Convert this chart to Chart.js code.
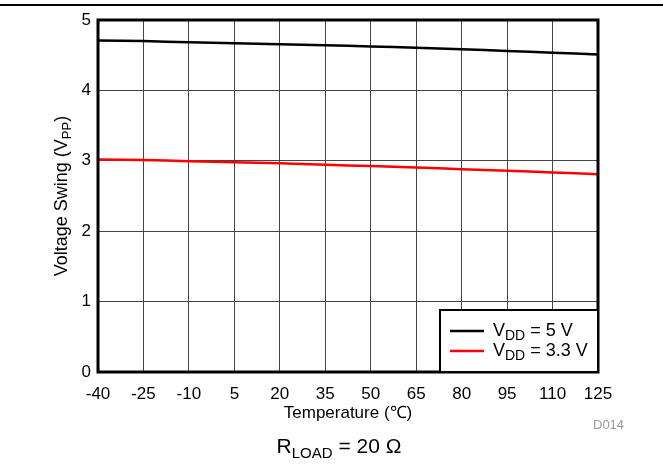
<!DOCTYPE html>
<html>
<head>
<meta charset="utf-8">
<script src="https://cdn.jsdelivr.net/npm/chart.js@4"></script>
<style>
  html, body { margin: 0; padding: 0; background: #fff; }
  #wrap { width: 663px; height: 464px; position: relative; }
</style>
</head>
<body>
<div id="wrap"><canvas id="myChart" width="663" height="464"></canvas></div>
<script>
// temperatures (deg C) and swing values
var temps = [-40, -25, -10, 5, 20, 35, 50, 65, 80, 95, 110, 125];
var swing5V = [4.71, 4.70, 4.685, 4.67, 4.655, 4.64, 4.625, 4.605, 4.585, 4.56, 4.535, 4.51];
var swing33V = [3.02, 3.01, 2.995, 2.98, 2.965, 2.945, 2.925, 2.905, 2.88, 2.86, 2.835, 2.81];
var yTicks = [0, 1, 2, 3, 4, 5];

var FONT = "'Liberation Sans', Arial, sans-serif";

function pts(ys){
    return temps.map(function(t, i){ return {x: t, y: ys[i]}; });
}

// draws "main" + subscript + rest, returns width
function subText(ctx, x, y, main, sub, rest, size, subSize, align){
    ctx.font = size + 'px ' + FONT;
    var w1 = ctx.measureText(main).width;
    var w3 = ctx.measureText(rest).width;
    ctx.font = subSize + 'px ' + FONT;
    var w2 = ctx.measureText(sub).width;
    var total = w1 + w2 + w3;
    var sx = x;
    if (align === 'center') sx = x - total / 2;
    ctx.textAlign = 'left';
    ctx.textBaseline = 'alphabetic';
    ctx.font = size + 'px ' + FONT;
    ctx.fillText(main, sx, y);
    ctx.font = subSize + 'px ' + FONT;
    ctx.fillText(sub, sx + w1, y + size * 0.22);
    ctx.font = size + 'px ' + FONT;
    ctx.fillText(rest, sx + w1 + w2, y);
    return total;
}

var extras = {
    id: 'extras',
    afterDraw: function(chart){
        var ctx = chart.ctx;
        var a = chart.chartArea;
        ctx.save();
        // top rule
        ctx.fillStyle = '#000';
        ctx.fillRect(0, 4, 663, 2);
        // plot frame
        ctx.strokeStyle = '#000';
        ctx.lineWidth = 3;
        ctx.strokeRect(a.left, a.top, a.right - a.left, a.bottom - a.top);

        // y title
        ctx.fillStyle = '#000';
        ctx.save();
        ctx.translate(67, (a.top + a.bottom) / 2);
        ctx.rotate(-Math.PI / 2);
        subText(ctx, 0, 0, 'Voltage Swing (V', 'PP', ')', 18, 13, 'center');
        ctx.restore();

        // x title
        ctx.font = '17px ' + FONT;
        ctx.textAlign = 'center';
        ctx.textBaseline = 'middle';
        ctx.fillText('Temperature (\u2103)', (a.left + a.right) / 2, 413);

        // bottom note
        subText(ctx, 339, 453, 'R', 'LOAD', ' = 20 \u03A9', 21, 15, 'center');

        // D014
        ctx.fillStyle = '#999';
        ctx.font = '13px ' + FONT;
        ctx.textAlign = 'left';
        ctx.textBaseline = 'middle';
        ctx.fillText('D014', 593, 425);

        // legend
        var lx = 440, ly = 310, lw = a.right - 440, lh = a.bottom - 310;
        ctx.fillStyle = '#fff';
        ctx.fillRect(lx, ly, lw, lh);
        ctx.strokeStyle = '#000';
        ctx.lineWidth = 2;
        ctx.strokeRect(lx, ly, lw, lh);
        var labels = [['V', 'DD', ' = 5 V'], ['V', 'DD', ' = 3.3 V']];
        var rows = [331, 351];
        chart.data.datasets.forEach(function(ds, i){
            ctx.strokeStyle = ds.borderColor;
            ctx.lineWidth = 2.5;
            ctx.beginPath();
            ctx.moveTo(450, rows[i]);
            ctx.lineTo(484, rows[i]);
            ctx.stroke();
            ctx.fillStyle = '#000';
            subText(ctx, 493, rows[i] + 5, labels[i][0], labels[i][1], labels[i][2], 18, 14, 'left');
        });
        ctx.restore();
    }
};

var ctx = document.getElementById('myChart').getContext('2d');
var myChart = new Chart(ctx, {
    type: 'line',
    data: {
        datasets: [{
            label: 'VDD = 5 V',
            data: pts(swing5V),
            borderColor: '#000',
            borderWidth: 2.5,
            pointRadius: 0,
            tension: 0.3
        },
        {
            label: 'VDD = 3.3 V',
            data: pts(swing33V),
            borderColor: '#ff0000',
            borderWidth: 2.5,
            pointRadius: 0,
            tension: 0.3
        }]
    },
    options: {
        responsive: false,
        animation: false,
        layout: { padding: { top: 20, right: 65, left: 0, bottom: 0 } },
        plugins: { legend: { display: false }, tooltip: { enabled: false } },
        scales: {
            x: {
                type: 'linear',
                min: -40,
                max: 125,
                afterBuildTicks: function(s){ s.ticks = temps.map(function(v){ return {value: v}; }); },
                afterFit: function(s){ s.height = 92; },
                grid: { color: '#444', lineWidth: 1, drawTicks: false },
                border: { display: false },
                ticks: { color: '#000', padding: 12, maxRotation: 0, autoSkip: false, font: { family: FONT, size: 17 } }
            },
            y: {
                min: 0,
                max: 5,
                afterBuildTicks: function(s){ s.ticks = yTicks.map(function(v){ return {value: v}; }); },
                afterFit: function(s){ s.width = 98; },
                grid: { color: '#444', lineWidth: 1, drawTicks: false },
                border: { display: false },
                ticks: { color: '#000', padding: 7, font: { family: FONT, size: 17 } }
            }
        }
    },
    plugins: [extras]
});
</script>
</body>
</html>
